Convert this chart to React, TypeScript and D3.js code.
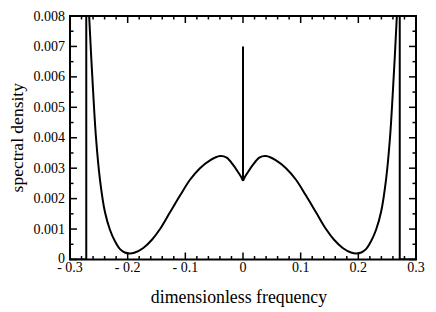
import React from "react";
import * as d3 from "d3";

// Spectral density (dimensionless frequency -> density)
// outside the band: zero, then a divergence at the band edge
const edgeLeftFreq: number[] = [-0.3, -0.2718, -0.2718];
const edgeLeftDensity: number[] = [0, 0, 0.02];
const edgeRightFreq: number[] = [0.2718, 0.2718, 0.3];
const edgeRightDensity: number[] = [0.02, 0, 0];

// inner branches
const leftFreq: number[] = [
  -0.2695, -0.2668, -0.2613, -0.2549, -0.248, -0.2393, -0.2306, -0.222, -0.2133,
  -0.205, -0.197, -0.1873, -0.1729, -0.1583, -0.1439, -0.1266, -0.1092, -0.0919,
  -0.0746, -0.0572, -0.0399, -0.0283, -0.0168, -0.0082, -0.0023, 0,
];
const leftDensity: number[] = [
  0.0095, 0.008, 0.006, 0.0040, 0.00262, 0.00155, 0.00097, 0.0006, 0.00034,
  0.00023, 0.0002, 0.00023, 0.00038, 0.00064, 0.001, 0.00155, 0.0021, 0.00262,
  0.003, 0.00326, 0.0034, 0.00335, 0.0031, 0.00286, 0.00268, 0.00258,
];
const rightFreq: number[] = [
  0, 0.0023, 0.0082, 0.0168, 0.0283, 0.0399, 0.0572, 0.0746, 0.0919, 0.1092,
  0.1266, 0.1439, 0.1583, 0.1729, 0.1873, 0.197, 0.205, 0.2133, 0.222, 0.2306,
  0.2393, 0.248, 0.2549, 0.2613, 0.2668, 0.2695,
];
const rightDensity: number[] = [
  0.00258, 0.00268, 0.00286, 0.0031, 0.00335, 0.0034, 0.00326, 0.003, 0.00262, 0.0021,
  0.00155, 0.001, 0.00064, 0.00038, 0.00023, 0.0002, 0.00023, 0.00034, 0.0006, 0.00097,
  0.00155, 0.00262, 0.0040, 0.006, 0.008, 0.0095,
];
// central spike
const spikeFreq: number[] = [0, 0];
const spikeDensity: number[] = [0.00258, 0.007];

const xMajorTicks: number[] = [-0.3, -0.2, -0.1, 0, 0.1, 0.2, 0.3];
const xTickLabels: string[] = ["- 0.3", "- 0.2", "- 0.1", "0", "0.1", "0.2", "0.3"];
const yMajorTicks: number[] = [0, 0.001, 0.002, 0.003, 0.004, 0.005, 0.006, 0.007, 0.008];
const yTickLabels: string[] = ["0", "0.001", "0.002", "0.003", "0.004", "0.005", "0.006", "0.007", "0.008"];
const xTitle = "dimensionless frequency";
const yTitle = "spectral density";

const W = 436;
const H = 312;
const L = 70, R = 416, T = 16, B = 259.5;
const FONT = "'Liberation Serif', 'Times New Roman', Times, serif";

type P = [number, number];
const zip = (a: number[], b: number[]): P[] => a.map((v, i) => [v, b[i]]);

export default function App() {
  const x = d3.scaleLinear().domain([-0.3, 0.3]).range([L, R]);
  const y = d3.scaleLinear().domain([0, 0.008]).range([B, T]);

  const straight = d3.line<P>().x((d) => x(d[0])).y((d) => y(d[1]));
  const smooth = d3
    .line<P>()
    .x((d) => x(d[0]))
    .y((d) => y(d[1]))
    .curve(d3.curveCatmullRom.alpha(0.5));

  const xMinor = d3
    .range(-15, 16)
    .map((i) => i * 0.02)
    .filter((v) => !xMajorTicks.some((m) => Math.abs(m - v) < 1e-9));
  const yMinor = d3.range(0, 8).map((i) => i * 0.001 + 0.0005);

  const MAJ = 7, MIN = 3.5;
  const txt = { fontFamily: FONT } as React.CSSProperties;

  return (
    <svg width={W} height={H} style={{ position: "absolute", left: 0, top: 0, background: "#fff" }}>
      <defs>
        <clipPath id="plotclip">
          <rect x={L} y={T} width={R - L} height={B - T} />
        </clipPath>
      </defs>
      <rect x={0} y={0} width={W} height={H} fill="#fff" />
      <g fill="none" stroke="#000" strokeWidth={2} strokeLinejoin="round" clipPath="url(#plotclip)">
        <path d={straight(zip(edgeLeftFreq, edgeLeftDensity)) || ""} />
        <path d={smooth(zip(leftFreq, leftDensity)) || ""} />
        <path d={straight(zip(spikeFreq, spikeDensity)) || ""} />
        <path d={smooth(zip(rightFreq, rightDensity)) || ""} />
        <path d={straight(zip(edgeRightFreq, edgeRightDensity)) || ""} />
      </g>

      {/* ticks */}
      <g stroke="#000" strokeWidth={1.5}>
        {xMajorTicks.map((v) => (
          <g key={"xm" + v}>
            <line x1={x(v)} x2={x(v)} y1={B} y2={B - MAJ} />
            <line x1={x(v)} x2={x(v)} y1={T} y2={T + MAJ} />
          </g>
        ))}
        {xMinor.map((v) => (
          <g key={"xn" + v}>
            <line x1={x(v)} x2={x(v)} y1={B} y2={B - MIN} />
            <line x1={x(v)} x2={x(v)} y1={T} y2={T + MIN} />
          </g>
        ))}
        {yMajorTicks.map((v) => (
          <g key={"ym" + v}>
            <line x1={L} x2={L + MAJ} y1={y(v)} y2={y(v)} />
            <line x1={R} x2={R - MAJ} y1={y(v)} y2={y(v)} />
          </g>
        ))}
        {yMinor.map((v) => (
          <g key={"yn" + v}>
            <line x1={L} x2={L + MIN} y1={y(v)} y2={y(v)} />
            <line x1={R} x2={R - MIN} y1={y(v)} y2={y(v)} />
          </g>
        ))}
      </g>
      <rect x={L} y={T} width={R - L} height={B - T} fill="none" stroke="#000" strokeWidth={2} />

      {/* tick labels */}
      <g fontSize={14} fill="#000" style={txt}>
        {xMajorTicks.map((v, i) => (
          <text key={"xl" + v} x={x(v)} y={271.5} textAnchor="middle" style={txt}>
            {xTickLabels[i]}
          </text>
        ))}
        {yMajorTicks.map((v, i) => (
          <text key={"yl" + v} x={65} y={y(v) - (i === 0 ? 1 : 0)} dy="0.33em" textAnchor="end" style={txt}>
            {yTickLabels[i]}
          </text>
        ))}
      </g>

      <text x={239} y={303} textAnchor="middle" fontSize={17.8} fill="#000" style={txt}>
        {xTitle}
      </text>
      <text
        transform={`translate(22.5, ${(T + B) / 2}) rotate(-90)`}
        textAnchor="middle"
        fontSize={17.5}
        fill="#000"
        style={txt}
      >
        {yTitle}
      </text>
    </svg>
  );
}
